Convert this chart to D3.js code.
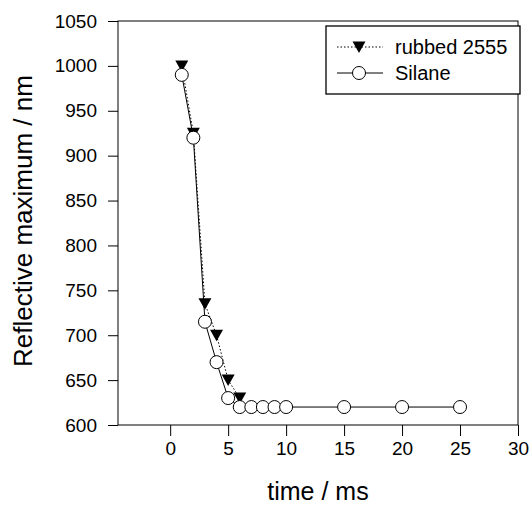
<!DOCTYPE html>
<html><head><meta charset="utf-8">
<script src="https://cdn.jsdelivr.net/npm/d3@7"></script>
<style>body{margin:0;background:#fff}svg{display:block}text{font-family:"Liberation Sans",Arial,sans-serif;fill:#000}</style>
</head><body>
<script>
const rubbedX = [1, 2, 3, 4, 5, 6];
const rubbedY = [1000, 925, 735, 700, 650, 630];
const silaneX = [1, 2, 3, 4, 5, 6, 7, 8, 9, 10, 15, 20, 25];
const silaneY = [990, 920, 715, 670, 630, 620, 620, 620, 620, 620, 620, 620, 620];
const xTicks = [0, 5, 10, 15, 20, 25, 30];
const yTicks = [600, 650, 700, 750, 800, 850, 900, 950, 1000, 1050];
const seriesNames = ["rubbed 2555", "Silane"];
const xTitle = "time / ms";
const yTitle = "Reflective maximum / nm";

const W = 530, H = 507;
const L = 118, R = 518, T = 21, B = 425;
const svg = d3.select("body").append("svg").attr("width", W).attr("height", H);
const x = d3.scaleLinear().domain([-4.5, 30]).range([L, R]);
const y = d3.scaleLinear().domain([600, 1050]).range([B, T]);

// frame
svg.append("rect").attr("x", L).attr("y", T).attr("width", R - L).attr("height", B - T)
  .attr("fill", "none").attr("stroke", "#000").attr("stroke-width", 1);

const xa = svg.append("g").attr("transform", `translate(0,${B})`)
  .call(d3.axisBottom(x).tickValues(xTicks).tickSize(11).tickPadding(6).tickFormat(d3.format("d")));
const ya = svg.append("g").attr("transform", `translate(${L},0)`)
  .call(d3.axisLeft(y).tickValues(yTicks).tickSize(10).tickPadding(11).tickFormat(d3.format("d")));
[xa, ya].forEach(g => {
  g.select(".domain").remove();
  g.selectAll("line").attr("stroke", "#000");
  g.selectAll("text").attr("font-size", 19).attr("font-family", '"Liberation Sans",Arial,sans-serif').attr("fill", "#000");
});

svg.append("text").attr("x", 318).attr("y", 500).attr("text-anchor", "middle")
  .attr("font-size", 25).text(xTitle);
svg.append("text").attr("transform", `translate(32,221) rotate(-90)`)
  .attr("text-anchor", "middle").attr("font-size", 26).text(yTitle);

const rub = rubbedX.map((v, i) => [v, rubbedY[i]]);
const sil = silaneX.map((v, i) => [v, silaneY[i]]);
const line = d3.line().x(d => x(d[0])).y(d => y(d[1]));

svg.append("path").datum(rub).attr("d", line).attr("fill", "none").attr("stroke", "#000")
  .attr("stroke-width", 1).attr("stroke-dasharray", "1.5,2");
svg.append("path").datum(sil).attr("d", line).attr("fill", "none").attr("stroke", "#000")
  .attr("stroke-width", 1);

const tri = (cx, cy) => `M${cx - 6.5},${cy - 5.5}L${cx + 6.5},${cy - 5.5}L${cx},${cy + 6}Z`;
svg.selectAll(".tri").data(rub).enter().append("path")
  .attr("d", d => tri(x(d[0]), y(d[1]))).attr("fill", "#000");
svg.selectAll(".circ").data(sil).enter().append("circle")
  .attr("cx", d => x(d[0])).attr("cy", d => y(d[1])).attr("r", 6.5)
  .attr("fill", "#fff").attr("stroke", "#000").attr("stroke-width", 1);

// legend
const lg = svg.append("g");
lg.append("rect").attr("x", 326).attr("y", 26).attr("width", 194).attr("height", 68)
  .attr("fill", "#fff").attr("stroke", "#000").attr("stroke-width", 1.3);
const ly = [47, 73];
lg.append("line").attr("x1", 337).attr("x2", 383).attr("y1", ly[0]).attr("y2", ly[0])
  .attr("stroke", "#000").attr("stroke-dasharray", "1.5,2");
lg.append("path").attr("d", tri(359, ly[0])).attr("fill", "#000");
lg.append("line").attr("x1", 337).attr("x2", 383).attr("y1", ly[1]).attr("y2", ly[1])
  .attr("stroke", "#000");
lg.append("circle").attr("cx", 359).attr("cy", ly[1]).attr("r", 6.5).attr("fill", "#fff").attr("stroke", "#000");
seriesNames.forEach((n, i) => {
  lg.append("text").attr("x", 395).attr("y", ly[i]).attr("dy", "0.35em").attr("font-size", 20).text(n);
});
</script>
</body></html>
